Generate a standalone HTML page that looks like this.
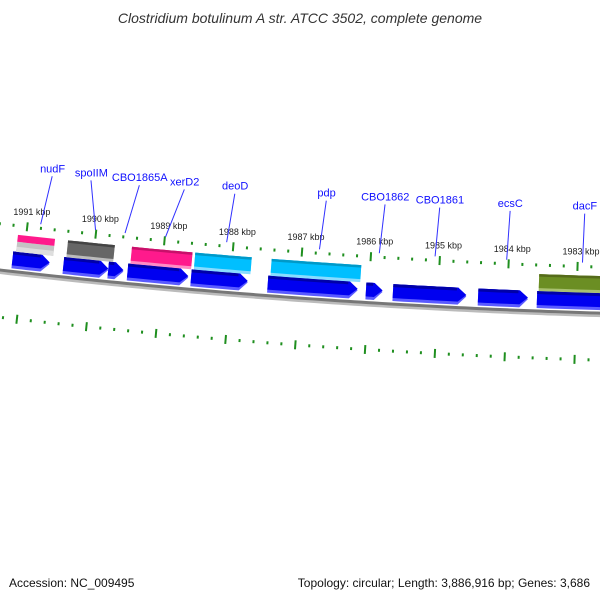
<!DOCTYPE html>
<html><head><meta charset="utf-8"><style>
html,body{margin:0;padding:0;background:#fff;}
svg{display:block;font-family:"Liberation Sans","DejaVu Sans",sans-serif;}
</style></head><body>
<svg id="map" width="600" height="600" viewBox="0 0 600 600" xmlns="http://www.w3.org/2000/svg">
<text x="300" y="23" text-anchor="middle" font-size="14" font-style="italic" fill="#333">Clostridium botulinum A str. ATCC 3502, complete genome</text>
<text x="9" y="587" font-size="12" fill="#111">Accession: NC_009495</text>
<text x="590" y="587" font-size="12" text-anchor="end" fill="#111">Topology: circular; Length: 3,886,916 bp; Genes: 3,686</text>
<g id="layer"></g>
</svg>
<script>
// ---- data (kbp positions) ----
const tickKbp = [1992, 1991, 1990, 1989, 1988, 1987, 1986, 1985, 1984, 1983, 1982];
const tickLabels = ["1992 kbp","1991 kbp","1990 kbp","1989 kbp","1988 kbp","1987 kbp","1986 kbp","1985 kbp","1984 kbp","1983 kbp","1982 kbp"];
const cdsStart = [1991.16, 1990.42, 1989.77, 1989.49, 1988.57, 1987.46, 1986.04, 1985.65, 1984.42, 1983.57];
const cdsEnd   = [1990.62, 1989.77, 1989.55, 1988.61, 1987.75, 1986.16, 1985.80, 1984.59, 1983.70, 1982.40];
const catStart = [1991.12, 1990.39, 1989.46, 1988.54, 1987.43, 1983.55];
const catEnd   = [1990.58, 1989.71, 1988.58, 1987.72, 1986.13, 1982.40];
const catKind  = ["nudix", "grey", "pink", "cyan", "cyan", "olive"];
const geneNames  = ["nudF","spoIIM","CBO1865A","xerD2","deoD","pdp","CBO1862","CBO1861","ecsC","dacF"];
const geneAnchor = [1990.81, 1990.01, 1989.58, 1988.99, 1988.10, 1986.75, 1985.88, 1985.07, 1984.03, 1982.93];
const geneLabelAt= [1990.72, 1990.15, 1989.44, 1988.78, 1988.04, 1986.70, 1985.84, 1985.04, 1984.01, 1982.92];

// ---- geometry ----
const CX = 801, CY = -6684, R0 = 7000, KC = 1979.76, KR = 0.00992;
const NS = "http://www.w3.org/2000/svg";
const layer = document.getElementById('layer');
function pt(k, dr){ const r = R0 - dr, a = (k - KC) * KR; return [CX - r*Math.sin(a), CY + r*Math.cos(a)]; }
function mk(tag, attrs){ const e = document.createElementNS(NS, tag); for (const a in attrs) e.setAttribute(a, attrs[a]); layer.appendChild(e); return e; }
function bandPts(k1, k2, d1, d2){
  const p = [], n = 8;
  for (let i = 0; i <= n; i++) p.push(pt(k1 + (k2-k1)*i/n, d2));
  for (let i = n; i >= 0; i--) p.push(pt(k1 + (k2-k1)*i/n, d1));
  return p.map(q => q[0].toFixed(2)+','+q[1].toFixed(2)).join(' ');
}
function arrowPts(k1, k2, d1, d2){
  const head = Math.min(0.12, (k1-k2)*0.6), kb = k2 + head, p = [];
  const n = 6;
  for (let i = 0; i <= n; i++) p.push(pt(k1 + (kb-k1)*i/n, d2));
  p.push(pt(k2, (d1+d2)/2));
  for (let i = n; i >= 0; i--) p.push(pt(k1 + (kb-k1)*i/n, d1));
  return p.map(q => q[0].toFixed(2)+','+q[1].toFixed(2)).join(' ');
}

// backbone
(function(){
  let s = '', sh = '';
  for (let k = 1993; k >= 1981.5; k -= 0.1){ const p = pt(k, 0), q = pt(k, -2.5);
    s += (s ? 'L' : 'M') + p[0].toFixed(2)+','+p[1].toFixed(2);
    sh += (sh ? 'L' : 'M') + q[0].toFixed(2)+','+q[1].toFixed(2); }
  let e = mk('path', {d: sh, stroke: '#bbb', 'stroke-width': 3, fill: 'none'});
  
  
  e = mk('path', {d: s, stroke: '#777', 'stroke-width': 3, fill: 'none'});
  
  
})();

// ticks (outer and inner rings)
[[46, 'outer'], [-47, 'inner']].forEach(([dr, side]) => {
  for (let k = 1993; k >= 1981.4; k -= 0.2){
    const major = Math.abs(k - Math.round(k)) < 0.01;
    const h = major ? 4.5 : 1.5;
    const a = pt(k, dr - h), b = pt(k, dr + h);
    const e = mk('line', {x1: a[0], y1: a[1], x2: b[0], y2: b[1], stroke: '#1f8f1f', 'stroke-width': 2});
    
    
  }
});
tickKbp.forEach((k, i) => {
  const p = pt(k, 61);
  const t = mk('text', {x: p[0] + 3, y: p[1] + 3, 'font-size': 9, 'text-anchor': 'middle', fill: '#222'});
  t.textContent = tickLabels[i];
  
  
});

// CDS arrows
cdsStart.forEach((k1, i) => {
  const k2 = cdsEnd[i];
  let e = mk('polygon', {points: arrowPts(k1, k2, 3, 20), fill: '#5a5aff'});
  
  
  e = mk('polygon', {points: arrowPts(k1, k2, 6, 20), fill: '#0000f0'});
  
  
  e = mk('polygon', {points: bandPts(k1, k2 + Math.min(0.12,(k1-k2)*0.6) + 0.02, 17, 20), fill: '#0000a8'});
  
  
});

// COG category bars
const kindCol = {pink: ['#c8106a','#ff1a8c','#ff8cc4'], cyan: ['#0099c8','#00bfff','#88dcff'], grey: ['#444','#666','#bbb'], olive: ['#556b1a','#6b8e23','#a8c070'], nudix: ['#c8106a','#ff1a8c','#ff8cc4']};
catStart.forEach((k1, i) => {
  const k2 = catEnd[i], c = kindCol[catKind[i]];
  let e;
  if (catKind[i] === 'nudix'){
    e = mk('polygon', {points: bandPts(k1, k2, 20, 30), fill: '#c4c4c4'});
    
    
    e = mk('polygon', {points: bandPts(k1, k2, 20, 25), fill: '#dedede'});
    
    
    e = mk('polygon', {points: bandPts(k1, k2, 30, 37), fill: c[1]});
    
    
    return;
  }
  e = mk('polygon', {points: bandPts(k1, k2, 20, 37), fill: c[2]});
  
  
  e = mk('polygon', {points: bandPts(k1, k2, 23, 37), fill: c[1]});
  
  
  e = mk('polygon', {points: bandPts(k1, k2, 34.5, 37), fill: c[0]});
  
  
});

// gene labels
geneNames.forEach((n, i) => {
  const a = pt(geneAnchor[i], 50), b = pt(geneLabelAt[i], 99), t = pt(geneLabelAt[i], 103);
  const l = mk('line', {x1: a[0], y1: a[1], x2: b[0], y2: b[1], stroke: '#3030ff', 'stroke-width': 1});
  
  
  const tx = mk('text', {x: t[0], y: t[1], 'font-size': 11, 'text-anchor': 'middle', fill: '#1010ff'});
  tx.textContent = n;
  
  
});
</script>
</body></html>
